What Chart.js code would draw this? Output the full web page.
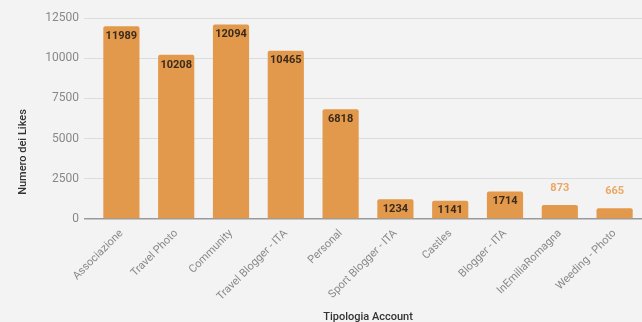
<!DOCTYPE html>
<html>
<head>
<meta charset="utf-8">
<script src="https://cdn.jsdelivr.net/npm/chart.js@4/dist/chart.umd.min.js"></script>
<style>
  html, body { margin: 0; padding: 0; background: #f3f3f3; }
  #wrap { width: 642px; height: 322px; position: relative; }
</style>
</head>
<body>
<div id="wrap"><canvas id="chart-container"></canvas></div>
<script>
// Tipologia account vs numero di likes
const categories = ["Associazione", "Travel Photo", "Community", "Travel Blogger - ITA", "Personal",
  "Sport Blogger - ITA", "Castles", "Blogger - ITA", "InEmiliaRomagna", "Weeding - Photo"];
const likes = [11989, 10208, 12094, 10465, 6818, 1234, 1141, 1714, 873, 665];
const yTicks = [0, 2500, 5000, 7500, 10000, 12500];

const barColor = '#e2994b';

// value labels: inside the bar near the top, above it when the bar is too short
const valueLabels = {
  id: 'valueLabels',
  afterDatasetsDraw(chart) {
    const ctx = chart.ctx;
    const meta = chart.getDatasetMeta(0);
    ctx.save();
    ctx.textAlign = 'center';
    ctx.textBaseline = 'middle';
    ctx.font = 'bold 11px Roboto';
    meta.data.forEach((bar, i) => {
      const h = bar.base - bar.y;
      if (h > 16) {
        ctx.fillStyle = '#3b2a1c';
        ctx.fillText(likes[i], bar.x, bar.y + 10);
      } else {
        ctx.fillStyle = '#eaa864';
        ctx.fillText(likes[i], bar.x, bar.y - 17);
      }
    });
    ctx.restore();
  }
};

// axis titles
const axisTitles = {
  id: 'axisTitles',
  afterDraw(chart) {
    const ctx = chart.ctx;
    const area = chart.chartArea;
    ctx.save();
    ctx.fillStyle = '#333';
    ctx.font = '500 11px Roboto';
    ctx.textAlign = 'center';
    ctx.textBaseline = 'middle';
    ctx.fillText('Tipologia Account', (area.left + area.right) / 2, 317);
    ctx.translate(23, 152);
    ctx.rotate(-Math.PI / 2);
    ctx.fillText('Numero dei Likes', 0, 0);
    ctx.restore();
  }
};

new Chart(document.getElementById('chart-container'), {
  type: 'bar',
  data: {
    labels: categories,
    datasets: [{
      data: likes,
      backgroundColor: barColor,
      borderRadius: 2,
      borderSkipped: 'bottom',
      categoryPercentage: 1,
      barPercentage: 0.66
    }]
  },
  options: {
    responsive: true,
    maintainAspectRatio: false,
    animation: false,
    layout: { padding: { top: 18, right: 0, left: 0, bottom: 0 } },
    plugins: {
      legend: { display: false },
      tooltip: { enabled: false }
    },
    scales: {
      x: {
        grid: { display: false },
        border: { display: false },
        ticks: {
          color: '#888',
          font: { family: 'Roboto', size: 11 },
          minRotation: 45,
          maxRotation: 45,
          padding: 0
        },
        afterFit(scale) { scale.height = 103; }
      },
      y: {
        min: 0,
        max: 12500,
        afterBuildTicks(scale) { scale.ticks = yTicks.map(v => ({ value: v })); },
        border: { display: false },
        grid: {
          color: c => c.tick && c.tick.value === 0 ? '#9a9a9a' : '#dcdcdc',
          lineWidth: c => c.tick && c.tick.value === 0 ? 1.5 : 1,
          tickLength: 10
        },
        ticks: {
          color: '#888',
          font: { family: 'Roboto', size: 12 },
          padding: 5,
          callback: v => String(v)
        },
        afterFit(scale) { scale.width = 94; }
      }
    }
  },
  plugins: [valueLabels, axisTitles]
});
</script>
</body>
</html>
